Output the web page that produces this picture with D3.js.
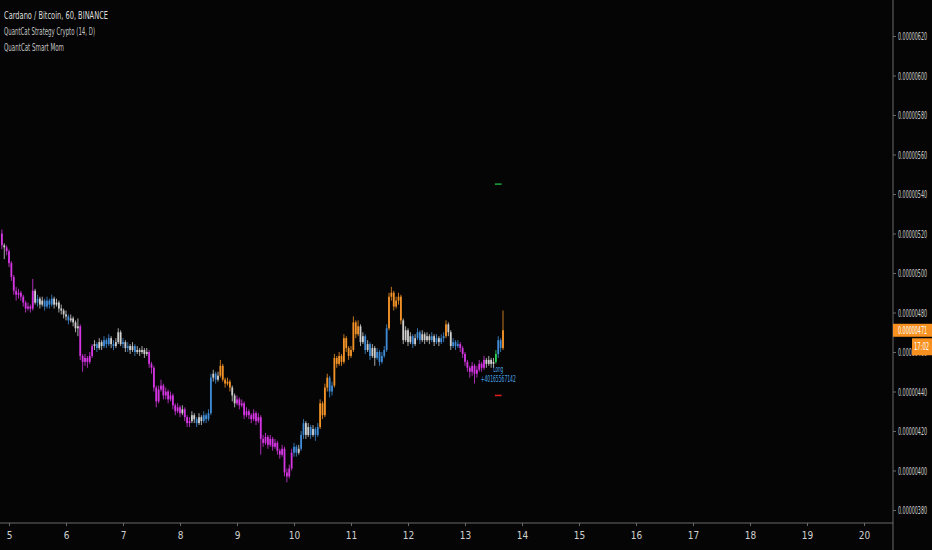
<!DOCTYPE html>
<html>
<head>
<meta charset="utf-8">
<script src="https://cdn.jsdelivr.net/npm/d3@7"></script>
<style>
  html, body { margin: 0; padding: 0; background: #050505; }
  svg { display: block; }
  text { font-family: "Liberation Sans Narrow", "DejaVu Sans Condensed", sans-serif; }
</style>
</head>
<body>
<div id="chart"></div>
<script>
// hourly ADA/BTC candles, prices in satoshi (1e-8 BTC)
var firstBar = "2018-11-04T21:00:00Z";
var firstOpen = 520;
var closes = [
    514,513,511,505,498,491,489,490,488,485,
    482,483,482,491,485,487,484,486,483,486,
    484,487,484,485,482,481,479,478,476,477,
    475,472,473,458,455,457,455,458,463,464,
    462,465,463,466,464,467,464,463,465,470,
    464,465,462,463,461,463,460,461,460,461,
    459,460,454,452,442,435,441,443,438,440,
    436,438,433,430,432,429,431,427,424,425,
    428,426,424,427,425,428,426,429,447,449,
    446,448,453,446,444,445,442,438,434,436,
    433,434,428,430,428,426,429,425,427,416,
    414,417,413,416,412,414,410,408,411,399,
    397,401,409,412,409,411,418,424,418,422,
    418,421,418,422,434,428,442,447,440,443,
    457,454,458,455,467,462,458,461,475,469,
    473,465,468,461,464,458,462,457,460,455,
    458,461,472,488,490,483,486,488,476,466,
    471,465,468,464,467,470,466,469,466,468,
    466,468,465,467,465,467,468,474,470,463,
    465,463,464,462,459,455,452,450,453,449,
    451,454,452,456,454,456,454,455,459,466,
    462,471
];
var highs = [
    522,515,514,512,506,499,493,492,491,489,
    486,485,484,497,492,489,488,488,487,488,
    487,489,488,487,486,484,482,481,479,479,
    478,476,477,474,459,459,458,460,464,466,
    465,467,466,468,467,469,468,466,467,472,
    471,467,466,465,464,465,464,463,462,463,
    462,462,461,455,453,443,443,446,444,442,
    441,440,439,434,434,433,433,432,428,427,
    430,429,427,429,428,430,429,431,449,451,
    450,450,456,454,447,447,446,443,439,438,
    437,436,435,432,431,429,431,430,429,428,
    418,419,418,418,417,416,415,411,413,412,
    401,403,411,414,413,413,420,426,425,424,
    423,423,422,424,436,435,444,449,448,445,
    459,458,460,459,469,468,463,463,478,476,
    476,474,470,469,466,465,464,463,462,461,
    460,463,474,490,493,491,488,490,489,477,
    473,472,470,469,469,472,471,471,470,470,
    469,470,469,469,468,469,470,476,475,471,
    467,466,466,465,463,460,456,453,455,454,
    453,456,455,458,457,458,457,457,461,468,
    467,481
];
var lows = [
    512,507,509,503,496,489,486,487,486,483,
    480,481,480,481,484,483,482,483,481,482,
    482,483,482,483,480,479,477,476,474,475,
    473,470,468,456,450,453,452,454,457,461,
    460,461,461,462,462,463,462,461,462,464,
    463,462,460,460,459,460,458,459,458,459,
    457,458,452,449,440,432,434,440,436,436,
    434,435,431,428,429,427,428,425,422,422,
    424,424,422,423,423,424,424,425,428,445,
    444,445,447,445,442,443,440,435,432,433,
    431,432,426,427,426,424,425,423,424,408,
    412,413,411,412,410,411,408,406,407,397,
    394,396,400,407,407,408,410,416,416,417,
    416,417,415,417,421,426,427,440,437,438,
    442,452,453,453,454,460,456,457,460,467,
    468,463,464,459,460,456,457,453,456,453,
    454,457,460,471,486,481,482,484,474,464,
    465,463,464,462,463,466,464,465,464,465,
    464,465,463,464,463,464,465,467,468,461,
    462,461,462,460,457,453,450,447,448,444,
    447,450,450,451,452,453,452,452,454,457,
    460,461
];
// indicator state per bar: m = bearish, b = mild bull, w = neutral, o = strong bull, g = entry
var states = ("m w m m m m m m m m m m m m w b w w b b b b w w w w w w b w " +
    "w w w m m m m m m w b w w b b b w b w w w b w b w w b w w w " +
    "w w m m m m m m m m m m m m m m w m m m w w b w w b b b b w " +
    "b w o o o o o w w m m m m m m m m m m m m m m m m m m m m m " +
    "m m m b b w b b w w b w b b o o o o b b o o o o o o o o o o " +
    "o w w b w b w w b b b b b o o o o o o w w w w b w b b w w w " +
    "w b w b w b b o w w b b b m m m m m m m m m m m w w w w g b b o").split(" ");
var stateColor = { m: "#d535e3", b: "#3f8bd6", w: "#cfcfcf", o: "#f39327", g: "#2fd65a" };
var priceTicks = [380, 400, 420, 440, 460, 480, 500, 520, 540, 560, 580, 600, 620];
var dayTicks = [5, 6, 7, 8, 9, 10, 11, 12, 13, 14, 15, 16, 17, 18, 19, 20];
var legendLines = ["Cardano / Bitcoin, 60, BINANCE", "QuantCat Strategy Crypto (14, D)", "QuantCat Smart Mom"];
var signalBar = 208;
var takeProfit = 545;
var stopLoss = 438;
var signalText = ["Long", "+40165567142"];
var lastPrice = 471;
var countdown = "17:02";

var width = 932, height = 550;
var axisX = 893, axisY = 523;

var svg = d3.select("#chart").append("svg")
    .attr("width", width).attr("height", height);
svg.append("rect").attr("width", width).attr("height", height).attr("fill", "#050505");

var t0 = d3.utcHour.offset(new Date(firstBar), 3); // day 5 00:00
var x = d3.scaleUtc()
    .domain([t0, d3.utcDay.offset(t0, 15)])
    .range([9, 864]);
var y = d3.scaleLinear().domain([380, 620]).range([510, 36]);

var bars = closes.map(function (c, i) {
    return {
        t: d3.utcHour.offset(new Date(firstBar), i),
        o: i === 0 ? firstOpen : closes[i - 1],
        h: highs[i], l: lows[i], c: c,
        s: states[i]
    };
});

// candles
var g = svg.append("g");
var bw = 1.8;
g.selectAll("line.wick").data(bars).enter().append("line")
    .attr("x1", function (d) { return x(d.t); })
    .attr("x2", function (d) { return x(d.t); })
    .attr("y1", function (d) { return y(d.h); })
    .attr("y2", function (d) { return y(d.l); })
    .attr("stroke", function (d) { return stateColor[d.s]; })
    .attr("stroke-width", 0.8);
g.selectAll("rect.body").data(bars).enter().append("rect")
    .attr("x", function (d) { return x(d.t) - bw / 2; })
    .attr("width", bw)
    .attr("y", function (d) { return y(Math.max(d.o, d.c)); })
    .attr("height", function (d) { return Math.max(1, Math.abs(y(d.o) - y(d.c))); })
    .attr("fill", function (d) { return stateColor[d.s]; });

// strategy levels
var sx1 = x(bars[signalBar].t) - 1, sx2 = x(bars[signalBar + 2].t) + 1;
svg.append("line").attr("x1", sx1).attr("x2", sx2)
    .attr("y1", y(takeProfit)).attr("y2", y(takeProfit))
    .attr("stroke", "#18a83a").attr("stroke-width", 1.5);
svg.append("line").attr("x1", sx1).attr("x2", sx2)
    .attr("y1", y(stopLoss)).attr("y2", y(stopLoss))
    .attr("stroke", "#e01e1e").attr("stroke-width", 1.5);
var lx = x(bars[signalBar + 1].t);
var ly = y(bars[signalBar + 1].l);
svg.selectAll("text.sig").data(signalText).enter().append("text")
    .attr("x", lx).attr("y", function (d, i) { return ly + 14 + i * 10; })
    .attr("text-anchor", "middle")
    .attr("font-size", "8px")
    .attr("fill", "#4aa3e6")
    .attr("textLength", function (d, i) { return i ? 35 : 10; })
    .attr("lengthAdjust", "spacingAndGlyphs")
    .text(function (d) { return d; });

// time axis
var xAxis = d3.axisBottom(x)
    .tickValues(dayTicks.map(function (d) { return d3.utcDay.offset(t0, d - 5); }))
    .tickFormat(d3.utcFormat("%-d"))
    .tickSize(3).tickPadding(6);
var gx = svg.append("g").attr("transform", "translate(0," + axisY + ")").call(xAxis);
gx.select(".domain").remove();
gx.selectAll("line").attr("stroke", "#6a6a6a");
gx.selectAll("text").attr("fill", "#cfcfcf").attr("font-size", "10px")
    .attr("font-family", "'Liberation Sans Narrow', 'DejaVu Sans Condensed', sans-serif");
svg.append("line").attr("x1", 0).attr("x2", axisX).attr("y1", axisY).attr("y2", axisY)
    .attr("stroke", "#6a6a6a");

// price axis
var yAxis = d3.axisRight(y)
    .tickValues(priceTicks)
    .tickFormat(function (v) { return (v / 1e8).toFixed(8); })
    .tickSize(3).tickPadding(2);
var gy = svg.append("g").attr("transform", "translate(" + axisX + ",0)").call(yAxis);
gy.select(".domain").remove();
gy.selectAll("line").attr("stroke", "#6a6a6a");
gy.selectAll("text").attr("fill", "#cfcfcf").attr("font-size", "11px")
    .attr("font-family", "'Liberation Sans Narrow', 'DejaVu Sans Condensed', sans-serif")
    .attr("textLength", 29).attr("lengthAdjust", "spacingAndGlyphs");
svg.append("line").attr("x1", axisX).attr("x2", axisX).attr("y1", 0).attr("y2", height)
    .attr("stroke", "#6a6a6a");

// last price and countdown labels
var py = y(lastPrice);
svg.append("rect").attr("x", axisX).attr("y", py - 6.5).attr("width", width - axisX).attr("height", 13)
    .attr("fill", "#f7901e");
svg.append("text").attr("x", axisX + 5).attr("y", py + 4)
    .attr("font-size", "11px").attr("fill", "#ffffff")
    .attr("textLength", 29).attr("lengthAdjust", "spacingAndGlyphs")
    .text((lastPrice / 1e8).toFixed(8));
svg.append("rect").attr("x", 912).attr("y", py + 8).attr("width", width - 912).attr("height", 17)
    .attr("fill", "#f7901e");
svg.append("text").attr("x", 914).attr("y", py + 20)
    .attr("font-size", "11px").attr("fill", "#ffffff")
    .attr("textLength", 15).attr("lengthAdjust", "spacingAndGlyphs")
    .text(countdown);

// legend
svg.selectAll("text.legend").data(legendLines).enter().append("text")
    .attr("x", 4).attr("y", function (d, i) { return 19 + i * 16; })
    .attr("font-size", "10px")
    .attr("fill", function (d, i) { return i === 0 ? "#dedede" : "#c4c4c4"; })
    .attr("textLength", function (d, i) { return [104, 91, 60][i]; })
    .attr("lengthAdjust", "spacingAndGlyphs")
    .text(function (d) { return d; });
</script>
</body>
</html>
